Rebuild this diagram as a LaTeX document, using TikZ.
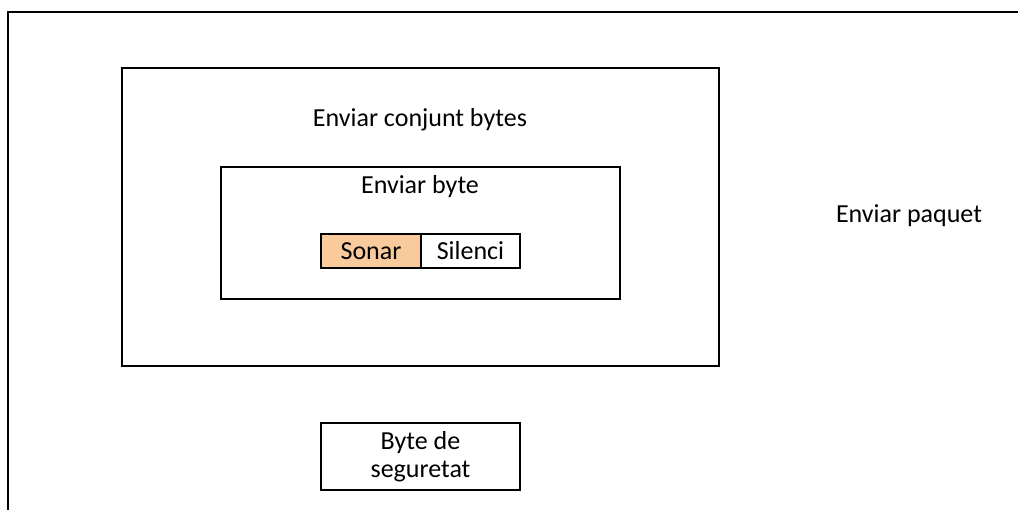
\documentclass[tikz,border=0pt]{standalone}
\usepackage{fontspec}
\setmainfont{Carlito}
\definecolor{sonarfill}{HTML}{F9CB9C}
\begin{document}
\begin{tikzpicture}[x=0.75pt,y=-0.75pt,
  box/.style={draw=black,line width=1.5pt,inner sep=0pt,anchor=north west},
  lbl/.style={font=\fontsize{19.5}{24}\selectfont,inner sep=0pt},
  line width=1.5pt]
\useasboundingbox (0,0) rectangle (1018,510);
\coordinate (otr) at (1020,12);
\coordinate (otl) at (8,12);
\coordinate (obl) at (8,512);
\draw (otr) -- (otl) -- (obl);
\node[box,minimum width=597*0.75pt,minimum height=298*0.75pt] (conj) at (121,67) {};
\node[lbl] (conjt) at (420,120) {Enviar conjunt bytes};
\node[box,minimum width=399*0.75pt,minimum height=132*0.75pt] (byte) at (220,166) {};
\node[lbl] (bytet) at (420,187) {Enviar byte};
\node[box,fill=sonarfill,minimum width=100*0.75pt,minimum height=34*0.75pt] (sonar) at (320,233) {};
\node[box,minimum width=99*0.75pt,minimum height=34*0.75pt] (silenci) at (420,233) {};
\node[lbl] at (sonar.center) {Sonar};
\node[lbl] at (silenci.center) {Silenci};
\node[box,minimum width=199*0.75pt,minimum height=67*0.75pt] (seg) at (320,422) {};
\node[lbl,align=center,font=\fontsize{19.5}{21}\selectfont] at (seg.center) {Byte de\\seguretat};
\node[lbl] (paq) at (909,216) {Enviar paquet};
\end{tikzpicture}
\end{document}
